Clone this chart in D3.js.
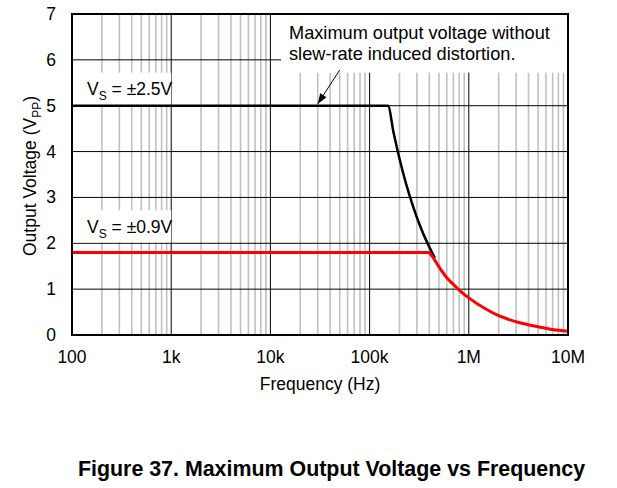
<!DOCTYPE html>
<html><head><meta charset="utf-8">
<script src="https://cdn.jsdelivr.net/npm/d3@7"></script>
<style>body{margin:0;background:#fff}svg{display:block}text{font-family:"Liberation Sans",Arial,sans-serif;fill:#000}</style>
</head><body><svg id="c" width="617" height="488"></svg>
<script>
// ---- data ----
const xTicks = [100, 1e3, 1e4, 1e5, 1e6, 1e7];
const xTickLabels = ["100", "1k", "10k", "100k", "1M", "10M"];
const yTicks = [0, 1, 2, 3, 4, 5, 6, 7];
const freq25 = [100, 1e3, 1e4, 1e5, 153e3, 175e3, 200e3, 233e3, 270e3, 320e3, 380e3, 430e3, 455e3];
const volt25 = [5, 5, 5, 5, 5, 4.4, 3.85, 3.3, 2.85, 2.4, 2.02, 1.78, 1.68];
const freq09 = [100, 1e3, 1e4, 1e5, 390e3, 430e3, 470e3, 520e3, 600e3, 700e3, 800e3, 1e6, 1.5e6, 2e6, 3e6, 5e6, 7e6, 1e7];
const volt09 = [1.8, 1.8, 1.8, 1.8, 1.8, 1.71, 1.58, 1.43, 1.25, 1.1, 0.98, 0.81, 0.56, 0.42, 0.29, 0.18, 0.12, 0.08];

const svg = d3.select("#c");
const m = {l: 72, r: 568, t: 14, b: 335};
const x = d3.scaleLog().domain([100, 1e7]).range([m.l, m.r]);
const y = d3.scaleLinear().domain([0, 7]).range([m.b, m.t]);

// minor grid
const minor = [];
for (let d = 100; d < 1e7; d *= 10) for (let k = 2; k <= 9; k++) minor.push(d * k);
svg.append("g").selectAll("line").data(minor).join("line")
  .attr("x1", d => x(d)).attr("x2", d => x(d)).attr("y1", m.t).attr("y2", m.b)
  .attr("stroke", "#c0c0c0").attr("stroke-width", 1.6);
// major vertical
svg.append("g").selectAll("line").data(xTicks).join("line")
  .attr("x1", d => x(d)).attr("x2", d => x(d)).attr("y1", m.t).attr("y2", m.b)
  .attr("stroke", "#000").attr("stroke-width", 1);
// horizontal
svg.append("g").selectAll("line").data(yTicks).join("line")
  .attr("x1", m.l).attr("x2", m.r).attr("y1", d => y(d)).attr("y2", d => y(d))
  .attr("stroke", "#000").attr("stroke-width", 1);

// white label boxes (annotation backgrounds)
const boxes = [
  {f0: 100, f1: 1e3, v0: 5.02, v1: 5.72},
  {f0: 100, f1: 1e3, v0: 2.02, v1: 2.72},
  {f0: 1.25e4, f1: 1e7, v0: 5.72, v1: 7}
];
svg.append("g").selectAll("rect").data(boxes).join("rect")
  .attr("x", d => x(d.f0) + 1).attr("width", d => x(d.f1) - x(d.f0) - 1)
  .attr("y", d => y(d.v1)).attr("height", d => y(d.v0) - y(d.v1))
  .attr("fill", "#fff");

// curves
const line = d3.line().x(d => x(d[0])).y(d => y(d[1])).curve(d3.curveMonotoneX);
svg.append("path").datum(d3.zip(freq25, volt25)).attr("d", line)
  .attr("fill", "none").attr("stroke", "#000").attr("stroke-width", 2.5);
svg.append("path").datum(d3.zip(freq09, volt09)).attr("d", line)
  .attr("fill", "none").attr("stroke", "#ff0000").attr("stroke-width", 3);

// frame
svg.append("rect").attr("x", m.l).attr("y", m.t).attr("width", m.r - m.l).attr("height", m.b - m.t)
  .attr("fill", "none").attr("stroke", "#000").attr("stroke-width", 2);

// axis labels
const fs = 17.5;
svg.append("g").selectAll("text").data(yTicks).join("text")
  .attr("x", 56).attr("y", d => y(d) + 6).attr("text-anchor", "end").attr("font-size", fs).text(d => d);
svg.append("g").selectAll("text").data(xTicks).join("text")
  .attr("x", d => x(d)).attr("y", 363).attr("text-anchor", "middle").attr("font-size", fs)
  .text((d, i) => xTickLabels[i]);
svg.append("text").attr("x", 320).attr("y", 390).attr("text-anchor", "middle").attr("font-size", fs).text("Frequency (Hz)");
const yl = svg.append("text").attr("transform", "translate(36,176) rotate(-90)").attr("text-anchor", "middle").attr("font-size", fs);
yl.append("tspan").text("Output Voltage (V");
yl.append("tspan").attr("font-size", 12).attr("dy", 5).text("PP");
yl.append("tspan").attr("dy", -5).text(")");

// series labels
function vsLabel(yy, val) {
  const t = svg.append("text").attr("x", 87).attr("y", yy).attr("font-size", fs);
  t.append("tspan").text("V");
  t.append("tspan").attr("font-size", 12).attr("dy", 5).text("S");
  t.append("tspan").attr("dy", -5).text(" = " + val);
}
vsLabel(95, "±2.5V");
vsLabel(233, "±0.9V");

// annotation
const ann = svg.append("text").attr("font-size", 18.2);
ann.append("tspan").attr("x", 289).attr("y", 39).text("Maximum output voltage without");
ann.append("tspan").attr("x", 289).attr("y", 60).text("slew-rate induced distortion.");
const tail = [x(5e4), y(5.78)], tip = [x(3.0e4), y(5.04)];
const ang = Math.atan2(tip[1] - tail[1], tip[0] - tail[0]);
svg.append("line").attr("x1", tail[0]).attr("y1", tail[1]).attr("x2", tip[0]).attr("y2", tip[1]).attr("stroke", "#000").attr("stroke-width", 1);
const L = 11, wA = 0.35;
svg.append("path").attr("d", `M${tip[0]},${tip[1]}L${tip[0] - L * Math.cos(ang - wA)},${tip[1] - L * Math.sin(ang - wA)}L${tip[0] - L * Math.cos(ang + wA)},${tip[1] - L * Math.sin(ang + wA)}Z`).attr("fill", "#000");

// title
svg.append("text").attr("x", 331.5).attr("y", 476).attr("text-anchor", "middle").attr("font-size", 21.4).attr("font-weight", "bold").text("Figure 37. Maximum Output Voltage vs Frequency");
</script></body></html>
